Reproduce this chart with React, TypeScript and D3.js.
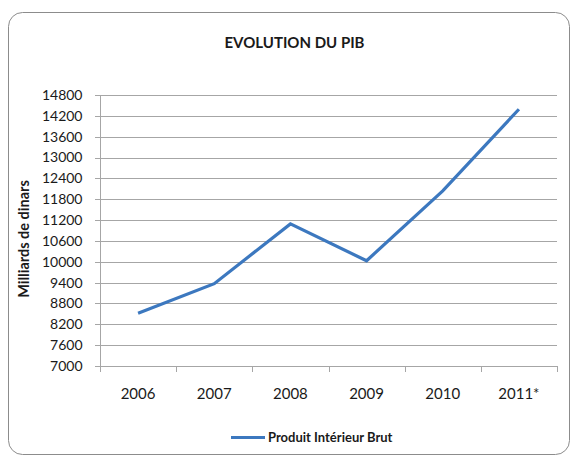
import React from "react";
import * as d3 from "d3";

const categories = ["2006", "2007", "2008", "2009", "2010", "2011*"];
const pibValues = [8520, 9370, 11090, 10030, 12040, 14390];
const yTicks = [7000, 7600, 8200, 8800, 9400, 10000, 10600, 11200, 11800, 12400, 13000, 13600, 14200, 14800];

const W = 571;
const H = 457;
const left = 100;
const right = 557;
const top = 95;
const bottom = 366;
const font = "Lato, 'Open Sans', sans-serif";

export default function App() {
  const x = d3.scaleBand<string>().domain(categories).range([left, right]).padding(0);
  const y = d3.scaleLinear().domain([7000, 14800]).range([bottom, top]);
  const line = d3
    .line<number>()
    .x((_, i) => (x(categories[i]) as number) + x.bandwidth() / 2)
    .y((d) => y(d));
  const boundaries = [...categories.map((c) => x(c) as number), right];

  return (
    <svg
      width={W}
      height={H}
      style={{ position: "absolute", left: 0, top: 0, background: "#fff" }}
    >
      <rect x={8.5} y={12.5} width={561} height={442} rx={14} ry={14} fill="#fff" stroke="#8c8c8c" strokeWidth={1} />
      <text x={294.5} y={43} dy="0.35em" textAnchor="middle" fontFamily={font} fontWeight="bold" fontSize={15} fill="#1a1a1a">
        EVOLUTION DU PIB
      </text>
      {yTicks.map((t) => (
        <g key={t}>
          <line x1={left} x2={right} y1={Math.round(y(t)) + 0.5} y2={Math.round(y(t)) + 0.5} stroke="#a6a6a6" strokeWidth={1} />
          <line x1={left - 5} x2={left} y1={Math.round(y(t)) + 0.5} y2={Math.round(y(t)) + 0.5} stroke="#a6a6a6" strokeWidth={1} />
          <text x={82.5} y={y(t)} dy="0.35em" textAnchor="end" fontFamily={font} fontSize={14} fill="#1a1a1a">
            {t}
          </text>
        </g>
      ))}
      <line x1={left + 0.5} x2={left + 0.5} y1={top} y2={bottom + 0.5} stroke="#a6a6a6" />
      {boundaries.map((b, i) => (
        <line key={i} x1={Math.round(b) + 0.5} x2={Math.round(b) + 0.5} y1={bottom} y2={bottom + 6} stroke="#a6a6a6" />
      ))}
      {categories.map((c) => (
        <text
          key={c}
          x={(x(c) as number) + x.bandwidth() / 2}
          y={394}
          dy="0.35em"
          textAnchor="middle"
          fontFamily={font}
          fontSize={15}
          fill="#1a1a1a"
        >
          {c}
        </text>
      ))}
      <path d={line(pibValues) || ""} fill="none" stroke="#3c78bf" strokeWidth={3.2} strokeLinejoin="miter" />
      <text
        transform="translate(24,239) rotate(-90)"
        textAnchor="middle"
        dy="0.35em"
        fontFamily={font}
        fontWeight="bold"
        fontSize={14.5}
        fill="#1a1a1a"
      >
        Milliards de dinars
      </text>
      <line x1={231} x2={265} y1={437.5} y2={437.5} stroke="#3c78bf" strokeWidth={3} />
      <text x={268} y={437.5} dy="0.35em" fontFamily={font} fontWeight="bold" fontSize={13} fill="#1a1a1a">
        Produit Intérieur Brut
      </text>
    </svg>
  );
}
